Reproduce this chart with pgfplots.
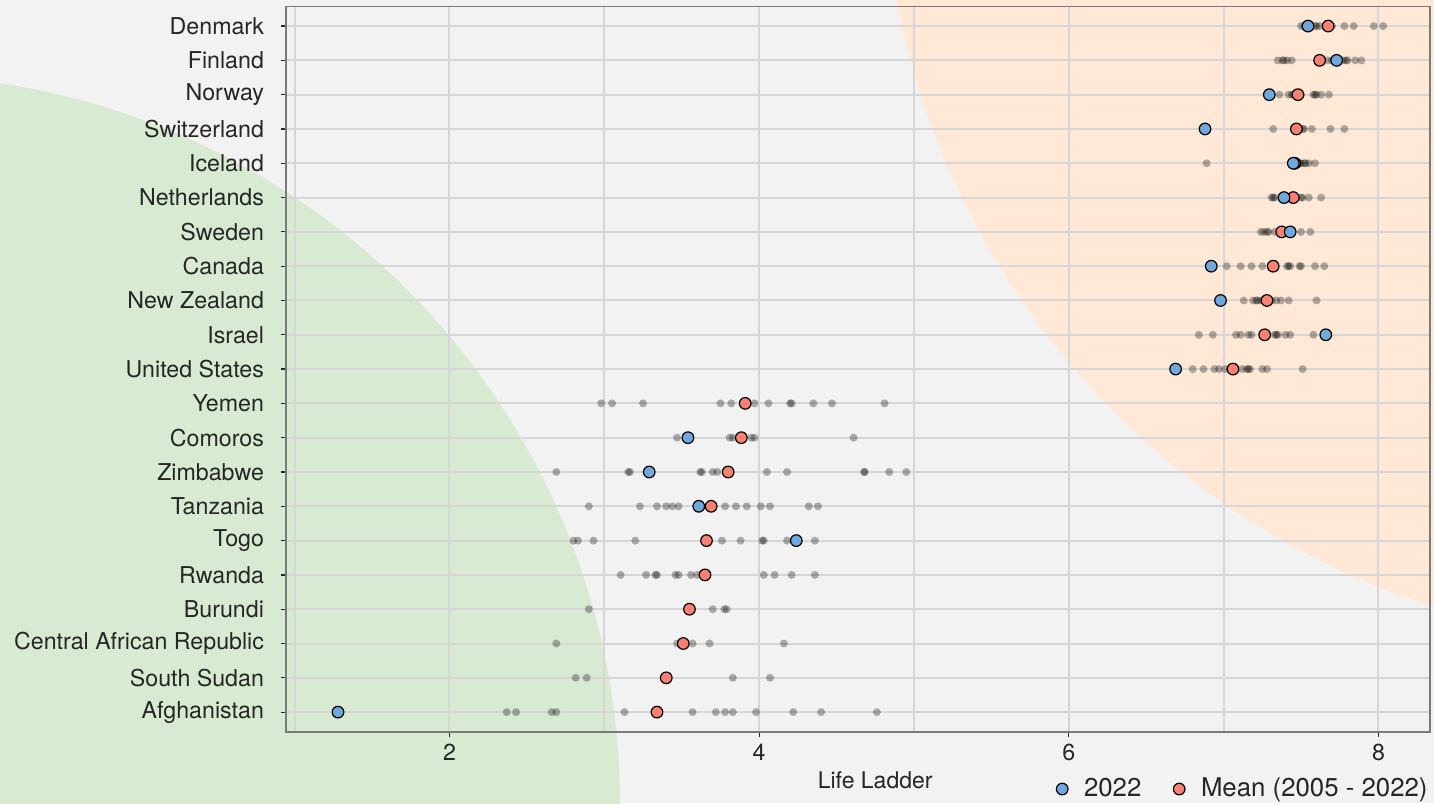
\documentclass[border=0pt]{standalone}
\usepackage{fontspec}
\setmainfont{TeX Gyre Heros}
\usepackage{pgfplots}
\pgfplotsset{compat=1.18}
\definecolor{bgc}{HTML}{F2F2F2}
\definecolor{greenc}{HTML}{D9EAD3}
\definecolor{orangec}{HTML}{FFE9D6}
\definecolor{bluec}{HTML}{6FA8DC}
\definecolor{redc}{HTML}{FA8072}
\definecolor{gridc}{HTML}{D6D6D6}
\definecolor{framec}{HTML}{7A7A7A}
\definecolor{txt}{HTML}{262626}
\begin{document}
\begin{tikzpicture}
\useasboundingbox (0,0) rectangle (717pt,-401.5pt);
\begin{scope}
\clip (0,0) rectangle (717pt,-401.5pt);
\fill[bgc] (0,0) rectangle (717pt,-401.5pt);
\fill[greenc] (-55pt,-402.5pt) circle[radius=365pt];
\fill[orangec] (837pt,73.5pt) circle[radius=395.5pt];
\end{scope}
\begin{axis}[
  at={(143pt,-366pt)}, anchor=south west,
  scale only axis, width=572pt, height=362.75pt,
  xmin=0.944, xmax=8.333, ymin=0.42, ymax=21.57,
  xtick={2,4,6,8}, minor xtick={1,3,5,7},
  ytick={1,...,21},
  yticklabels={Afghanistan,South Sudan,Central African Republic,Burundi,Rwanda,Togo,Tanzania,Zimbabwe,Comoros,Yemen,United States,Israel,New Zealand,Canada,Sweden,Netherlands,Iceland,Switzerland,Norway,Finland,Denmark},
  grid=both,
  major grid style={gridc, line width=1pt},
  minor grid style={gridc, line width=1pt},
  tick align=outside, major tick length=2.5pt, minor tick length=0pt,
  xtick pos=left, ytick pos=left,
  tick style={txt, line width=0.6pt},
  axis line style={framec, line width=0.8pt},
  ticklabel style={font=\fontsize{11.6}{13}\selectfont, text=txt},
  yticklabel style={xshift=-5pt},
  /pgf/number format/assume math mode=true,
  xlabel={Life Ladder},
  xlabel style={font=\fontsize{11.5}{13}\selectfont, text=txt, at={(axis description cs:0.515,-0.066)}, anchor=center},
  legend columns=2,
  legend style={at={(0.8374,-0.0786)}, anchor=center, draw=none, fill=none,
    font=\fontsize{12.9}{15}\selectfont, text=txt,
    /tikz/every odd column/.append style={column sep=6pt},
    /tikz/every even column/.append style={column sep=14pt}},
  legend cell align=left,
]
% all years (grey, semi-transparent)
\addplot[forget plot, only marks, mark=*, mark size=2pt, mark options={fill=black, fill opacity=0.3, draw opacity=0, line width=0pt}] coordinates {
(7.50,21)(7.52,21)(7.53,21)(7.54,21)(7.55,21)(7.59,21)(7.60,21)(7.62,21)(7.67,21)(7.69,21)(7.70,21)(7.78,21)(7.84,21)(7.97,21)(8.03,21)
(7.35,20)(7.38,20)(7.39,20)(7.41,20)(7.44,20)(7.67,20)(7.70,20)(7.73,20)(7.77,20)(7.79,20)(7.80,20)(7.85,20)(7.89,20)
(7.295,19)(7.36,19)(7.42,19)(7.44,19)(7.45,19)(7.50,19)(7.58,19)(7.59,19)(7.60,19)(7.63,19)(7.68,19)
(6.88,18)(7.32,18)(7.47,18)(7.49,18)(7.51,18)(7.52,18)(7.57,18)(7.69,18)(7.78,18)
(6.89,17)(7.45,17)(7.47,17)(7.49,17)(7.50,17)(7.52,17)(7.53,17)(7.55,17)(7.59,17)
(7.31,16)(7.32,16)(7.33,16)(7.39,16)(7.45,16)(7.46,16)(7.47,16)(7.50,16)(7.51,16)(7.55,16)(7.63,16)
(7.24,15)(7.26,15)(7.28,15)(7.29,15)(7.33,15)(7.375,15)(7.40,15)(7.43,15)(7.50,15)(7.56,15)
(6.92,14)(7.02,14)(7.11,14)(7.18,14)(7.25,14)(7.32,14)(7.41,14)(7.42,14)(7.43,14)(7.49,14)(7.50,14)(7.59,14)(7.65,14)
(6.98,13)(7.13,13)(7.19,13)(7.21,13)(7.22,13)(7.24,13)(7.26,13)(7.28,13)(7.31,13)(7.34,13)(7.37,13)(7.42,13)(7.60,13)
(6.84,12)(6.93,12)(7.08,12)(7.11,12)(7.16,12)(7.18,12)(7.26,12)(7.33,12)(7.34,12)(7.35,12)(7.40,12)(7.43,12)(7.58,12)(7.66,12)
(6.69,11)(6.80,11)(6.87,11)(6.94,11)(6.97,11)(7.01,11)(7.04,11)(7.12,11)(7.15,11)(7.16,11)(7.17,11)(7.25,11)(7.28,11)(7.51,11)
(2.98,10)(3.05,10)(3.25,10)(3.75,10)(3.82,10)(3.91,10)(3.97,10)(4.06,10)(4.20,10)(4.21,10)(4.35,10)(4.47,10)(4.81,10)
(3.47,9)(3.54,9)(3.81,9)(3.83,9)(3.95,9)(3.97,9)(4.61,9)
(2.69,8)(3.155,8)(3.165,8)(3.29,8)(3.62,8)(3.63,8)(3.70,8)(3.73,8)(4.05,8)(4.18,8)(4.68,8)(4.68,8)(4.84,8)(4.95,8)
(2.90,7)(3.23,7)(3.34,7)(3.40,7)(3.44,7)(3.48,7)(3.61,7)(3.69,7)(3.78,7)(3.85,7)(3.92,7)(4.01,7)(4.07,7)(4.32,7)(4.38,7)
(2.80,6)(2.83,6)(2.93,6)(3.20,6)(3.76,6)(3.88,6)(4.02,6)(4.03,6)(4.18,6)(4.24,6)(4.36,6)
(3.105,5)(3.27,5)(3.33,5)(3.34,5)(3.46,5)(3.48,5)(3.56,5)(3.60,5)(4.03,5)(4.10,5)(4.21,5)(4.36,5)
(2.90,4)(3.70,4)(3.775,4)(3.79,4)
(2.69,3)(3.47,3)(3.50,3)(3.57,3)(3.68,3)(4.16,3)
(2.815,2)(2.886,2)(3.83,2)(4.07,2)
(1.28,1)(2.37,1)(2.43,1)(2.66,1)(2.69,1)(3.13,1)(3.57,1)(3.72,1)(3.78,1)(3.83,1)(3.98,1)(4.22,1)(4.40,1)(4.76,1)
};
% mean 2005-2022
\addplot[forget plot, only marks, mark=*, mark size=2.9pt, mark options={draw=black, fill=redc, line width=0.6pt}] coordinates {
(7.675,21)(7.62,20)(7.48,19)(7.47,18)(7.46,17)(7.45,16)(7.375,15)(7.32,14)(7.28,13)(7.265,12)(7.06,11)
(3.91,10)(3.885,9)(3.80,8)(3.69,7)(3.66,6)(3.65,5)(3.55,4)(3.51,3)(3.40,2)(3.34,1)
};
% 2022
\addplot[forget plot, only marks, mark=*, mark size=2.9pt, mark options={draw=black, fill=bluec, line width=0.6pt}] coordinates {
(7.545,21)(7.73,20)(7.295,19)(6.88,18)(7.45,17)(7.39,16)(7.43,15)(6.92,14)(6.98,13)(7.66,12)(6.69,11)
(3.54,9)(3.29,8)(3.61,7)(4.24,6)(1.28,1)
};
\addlegendimage{only marks, mark=*, mark size=2.9pt, mark options={draw=black, fill=bluec, line width=0.6pt}}
\addlegendentry{2022}
\addlegendimage{only marks, mark=*, mark size=2.9pt, mark options={draw=black, fill=redc, line width=0.6pt}}
\addlegendentry{Mean (2005 - 2022)}
\end{axis}
\end{tikzpicture}
\end{document}
